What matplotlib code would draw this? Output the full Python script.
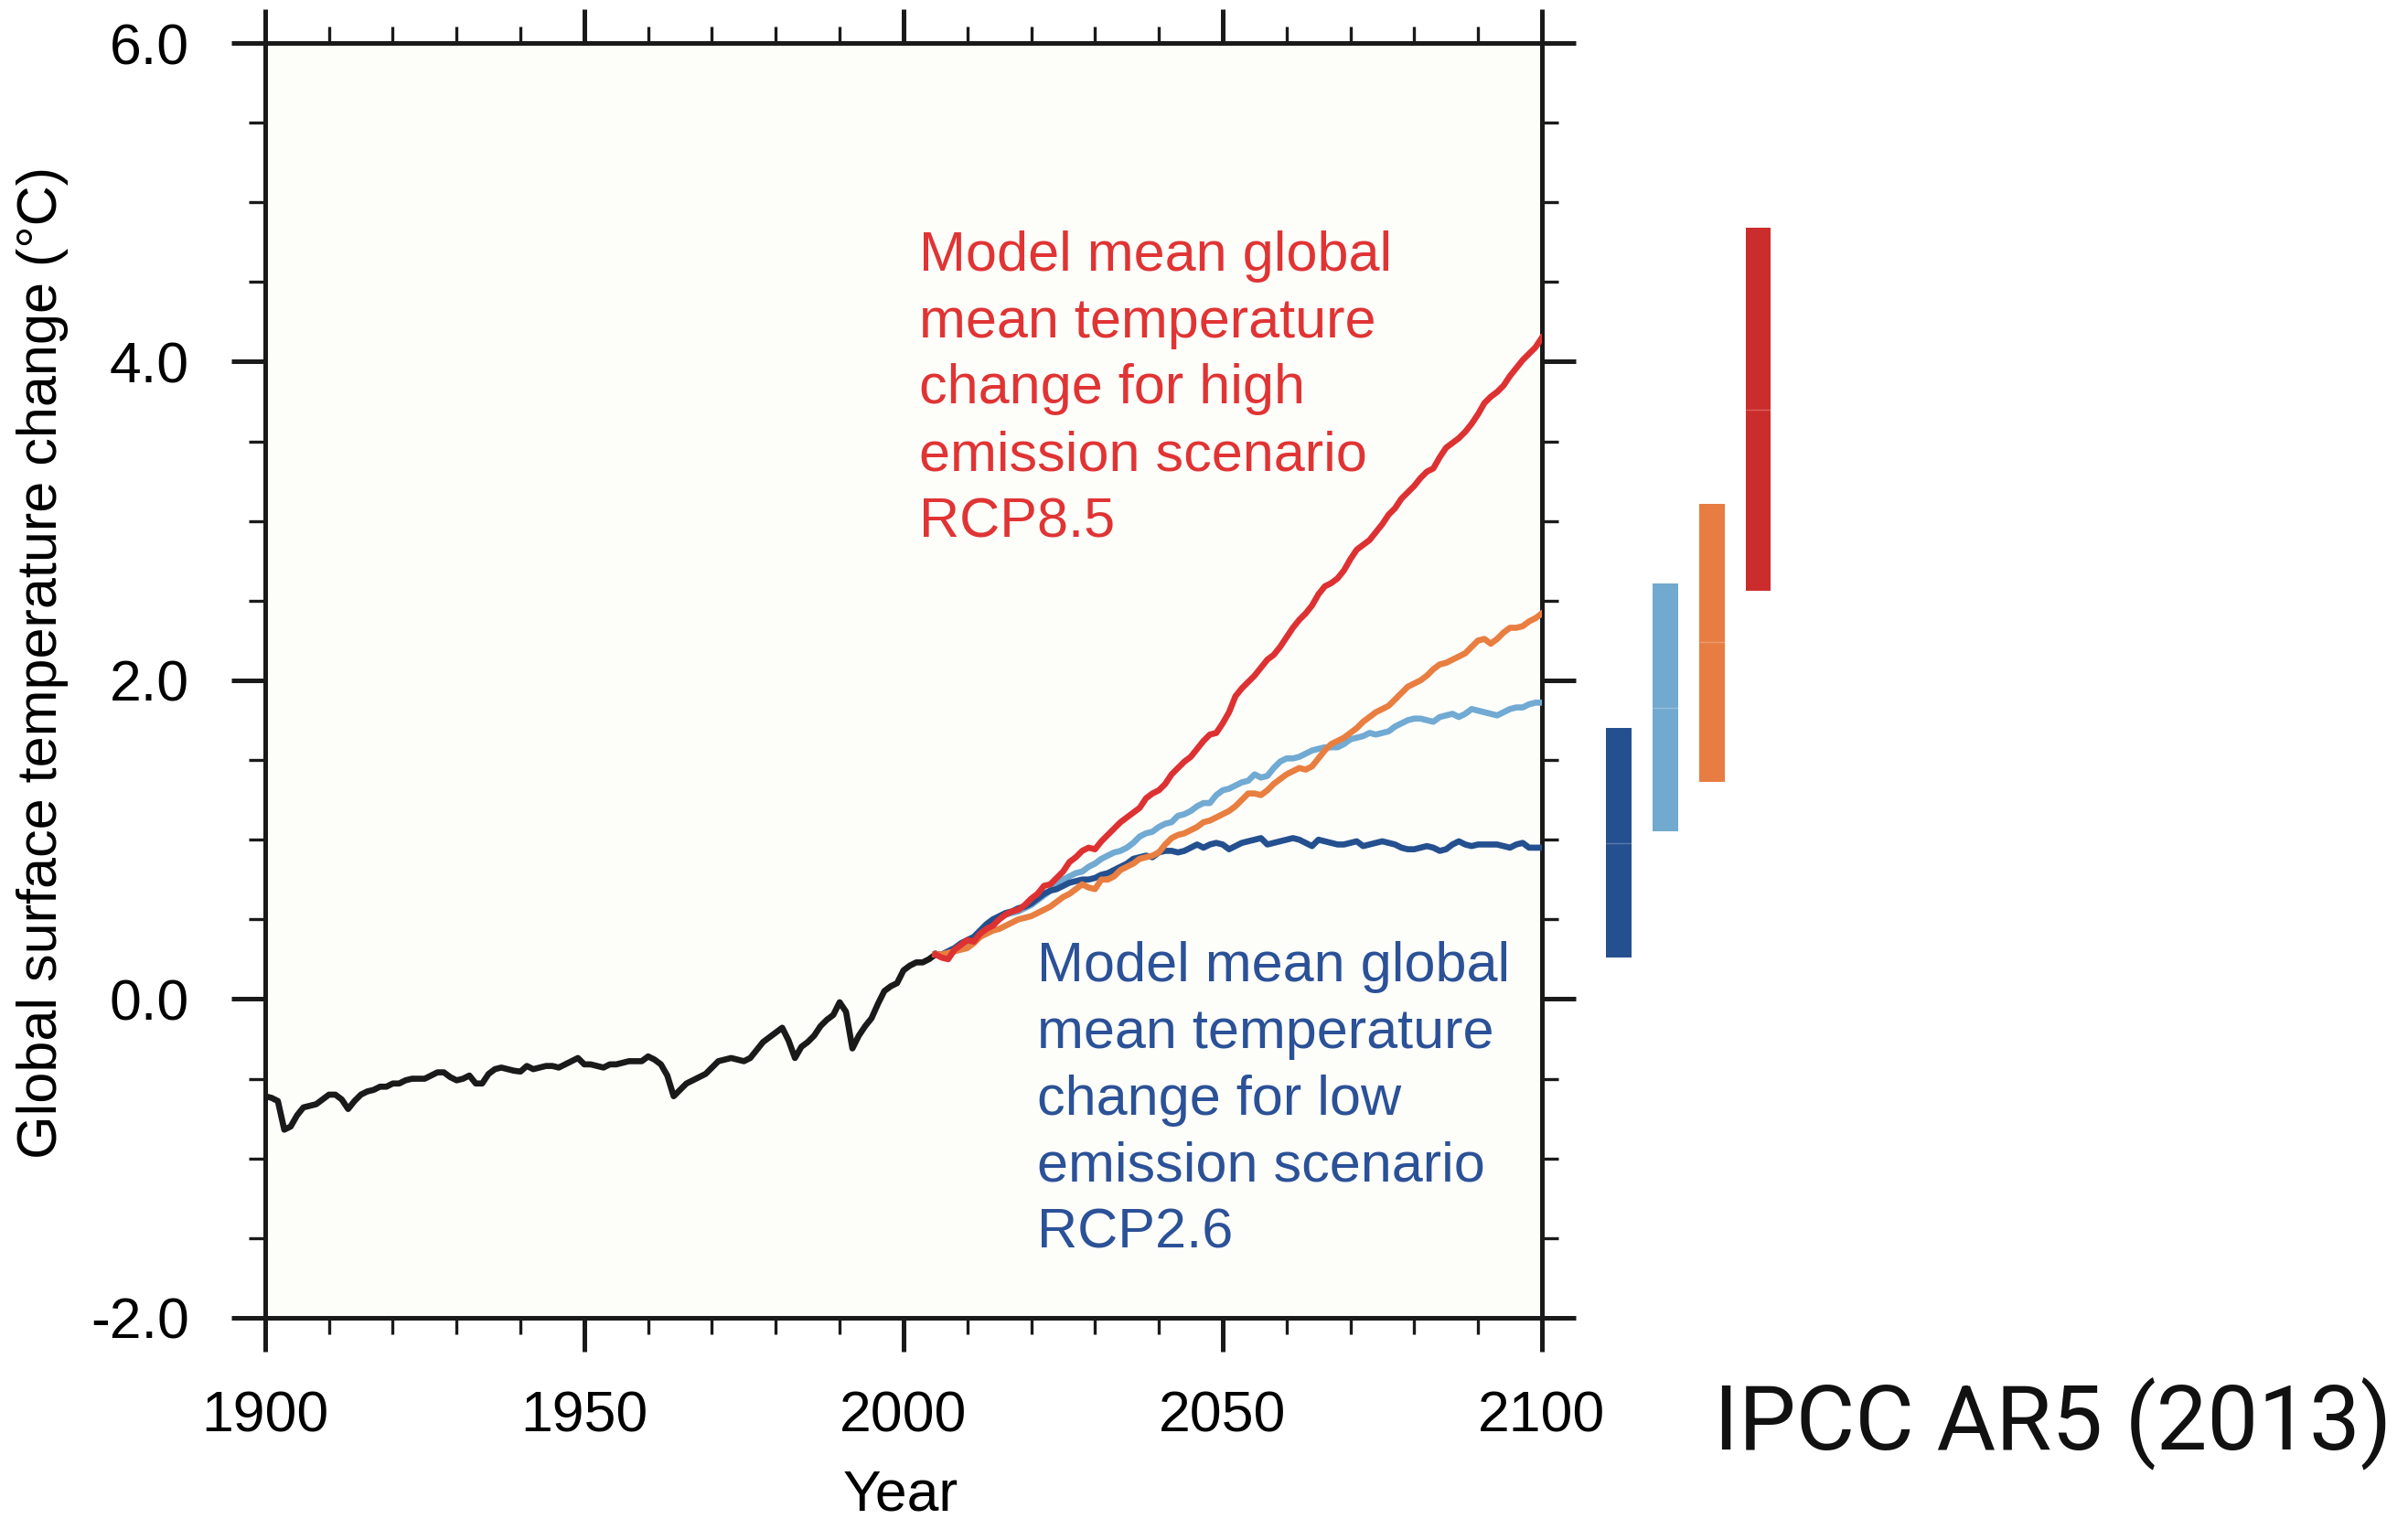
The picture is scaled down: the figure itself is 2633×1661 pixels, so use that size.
import matplotlib
matplotlib.use('Agg')  # no display
import matplotlib.pyplot as plt
from matplotlib.ticker import MultipleLocator

plt.rcParams['font.family'] = ['Liberation Sans', 'DejaVu Sans']

# Observed/historical model mean, 1900-2005
hist_years = list(range(1900, 2006))
hist_temp = [
    -0.61, -0.62, -0.64, -0.82, -0.80, -0.73, -0.68, -0.67, -0.66, -0.63,
    -0.60, -0.60, -0.63, -0.69, -0.64, -0.60, -0.58, -0.57, -0.55, -0.55,
    -0.53, -0.53, -0.51, -0.50, -0.50, -0.50, -0.48, -0.46, -0.46, -0.49,
    -0.51, -0.50, -0.48, -0.53, -0.53, -0.47, -0.44, -0.43, -0.44, -0.45,
    -0.455, -0.42, -0.44, -0.43, -0.42, -0.42, -0.43, -0.41, -0.39, -0.37,
    -0.41, -0.41, -0.42, -0.43, -0.41, -0.41, -0.40, -0.39, -0.39, -0.39,
    -0.36, -0.38, -0.41, -0.48, -0.61, -0.57, -0.53, -0.51, -0.49, -0.47,
    -0.43, -0.39, -0.38, -0.37, -0.38, -0.39, -0.37, -0.32, -0.27, -0.24,
    -0.21, -0.18, -0.26, -0.37, -0.30, -0.27, -0.23, -0.17, -0.13, -0.10,
    -0.02, -0.08, -0.31, -0.23, -0.17, -0.12, -0.03, 0.05, 0.08, 0.10,
    0.18, 0.21, 0.23, 0.23, 0.25, 0.28,
]

# Scenario projections, 2005-2100
proj_years = list(range(2005, 2101))
rcp26 = [
    0.28, 0.28, 0.30, 0.32, 0.35, 0.37, 0.39, 0.43, 0.47, 0.50,
    0.52, 0.54, 0.55, 0.57, 0.58, 0.60, 0.63, 0.66, 0.68, 0.69,
    0.71, 0.73, 0.74, 0.75, 0.75, 0.76, 0.78, 0.79, 0.81, 0.83,
    0.85, 0.88, 0.89, 0.90, 0.89, 0.92, 0.93, 0.93, 0.92, 0.93,
    0.95, 0.97, 0.95, 0.97, 0.98, 0.97, 0.94, 0.96, 0.98, 0.99,
    1.00, 1.01, 0.97, 0.98, 0.99, 1.00, 1.01, 1.00, 0.98, 0.96,
    1.00, 0.99, 0.98, 0.97, 0.97, 0.98, 0.99, 0.96, 0.97, 0.98,
    0.99, 0.98, 0.97, 0.95, 0.94, 0.94, 0.95, 0.96, 0.95, 0.93,
    0.94, 0.97, 0.99, 0.97, 0.96, 0.97, 0.97, 0.97, 0.97, 0.96,
    0.95, 0.97, 0.98, 0.95, 0.95, 0.95,
]
rcp45 = [
    0.28, 0.27, 0.28, 0.30, 0.33, 0.35, 0.37, 0.40, 0.44, 0.48,
    0.51, 0.53, 0.54, 0.55, 0.57, 0.59, 0.62, 0.65, 0.68, 0.71,
    0.75, 0.77, 0.79, 0.80, 0.83, 0.85, 0.88, 0.90, 0.92, 0.93,
    0.95, 0.98, 1.02, 1.04, 1.05, 1.08, 1.10, 1.11, 1.15, 1.16,
    1.18, 1.21, 1.23, 1.23, 1.28, 1.31, 1.32, 1.34, 1.36, 1.37,
    1.41, 1.39, 1.40, 1.45, 1.49, 1.51, 1.51, 1.52, 1.54, 1.56,
    1.57, 1.58, 1.58, 1.58, 1.60, 1.63, 1.64, 1.65, 1.67, 1.66,
    1.67, 1.68, 1.71, 1.73, 1.75, 1.76, 1.76, 1.75, 1.74, 1.77,
    1.78, 1.79, 1.77, 1.79, 1.82, 1.81, 1.80, 1.79, 1.78, 1.80,
    1.82, 1.83, 1.83, 1.85, 1.86, 1.86,
]
rcp60 = [
    0.28, 0.28, 0.29, 0.30, 0.31, 0.32, 0.35, 0.39, 0.41, 0.43,
    0.44, 0.46, 0.48, 0.50, 0.51, 0.52, 0.54, 0.56, 0.58, 0.61,
    0.64, 0.66, 0.69, 0.72, 0.70, 0.69, 0.75, 0.75, 0.77, 0.81,
    0.83, 0.85, 0.88, 0.89, 0.90, 0.92, 0.97, 1.01, 1.03, 1.04,
    1.06, 1.08, 1.11, 1.12, 1.14, 1.16, 1.18, 1.21, 1.25, 1.29,
    1.29, 1.28, 1.31, 1.35, 1.38, 1.41, 1.43, 1.45, 1.44, 1.46,
    1.51, 1.56, 1.60, 1.62, 1.64, 1.67, 1.70, 1.74, 1.77, 1.80,
    1.82, 1.84, 1.88, 1.92, 1.96, 1.98, 2.00, 2.03, 2.07, 2.10,
    2.11, 2.13, 2.15, 2.17, 2.21, 2.25, 2.26, 2.23, 2.26, 2.30,
    2.33, 2.33, 2.34, 2.37, 2.39, 2.42,
]
rcp85 = [
    0.28, 0.26, 0.25, 0.31, 0.34, 0.37, 0.36, 0.41, 0.44, 0.46,
    0.50, 0.53, 0.55, 0.56, 0.59, 0.63, 0.66, 0.71, 0.72, 0.76,
    0.80, 0.86, 0.89, 0.93, 0.95, 0.94, 0.99, 1.03, 1.07, 1.11,
    1.14, 1.17, 1.20, 1.26, 1.29, 1.31, 1.35, 1.41, 1.45, 1.49,
    1.52, 1.57, 1.62, 1.66, 1.67, 1.73, 1.80, 1.90, 1.95, 1.99,
    2.03, 2.08, 2.13, 2.16, 2.21, 2.27, 2.33, 2.38, 2.42, 2.47,
    2.54, 2.59, 2.61, 2.64, 2.69, 2.76, 2.82, 2.85, 2.88, 2.93,
    2.98, 3.04, 3.08, 3.14, 3.18, 3.22, 3.27, 3.31, 3.33, 3.40,
    3.46, 3.49, 3.52, 3.56, 3.61, 3.67, 3.74, 3.78, 3.81, 3.85,
    3.91, 3.96, 4.01, 4.05, 4.09, 4.15,
]

# 2081-2100 likely ranges (bars to the right of the plot)
bar_low = [0.26, 1.05, 1.36, 2.56]
bar_high = [1.70, 2.61, 3.11, 4.84]
bar_mean = [0.98, 1.83, 2.24, 3.70]

c_rcp26 = '#24508f'
c_rcp45 = '#71aad2'
c_rcp60 = '#e97e41'
c_rcp85 = '#de3132'
bar_colors = ['#24508f', '#72a9cf', '#e77d42', '#cb2c2c']

fig = plt.figure(figsize=(26.33, 16.61), dpi=100)
ax = fig.add_axes([0.1101, 0.1325, 0.5302, 0.8392])
ax.set_facecolor('#fdfdfa')

lw = 4.8
ax.plot(hist_years, hist_temp, color='#1a1a1a', linewidth=lw, zorder=3)
ax.plot(proj_years, rcp45, color=c_rcp45, linewidth=lw, zorder=4)
ax.plot(proj_years, rcp26, color=c_rcp26, linewidth=lw, zorder=5)
ax.plot(proj_years, rcp60, color=c_rcp60, linewidth=lw, zorder=6)
ax.plot(proj_years, rcp85, color=c_rcp85, linewidth=lw, zorder=7)

# range bars outside the axes
bar_pos = [2112 + 7.3 * i for i in range(len(bar_low))]
heights = [h - l for h, l in zip(bar_high, bar_low)]
ax.bar(bar_pos, heights, bottom=bar_low, width=4.0, color=bar_colors,
       edgecolor='none', clip_on=False, zorder=2)
for xp, m in zip(bar_pos, bar_mean):
    ax.hlines(m, xp - 2.0, xp + 2.0, color='white', alpha=0.25, linewidth=1.0,
              clip_on=False, zorder=3)

ax.set_xlim(1900, 2100)
ax.set_ylim(-2, 6)
ax.xaxis.set_major_locator(MultipleLocator(50))
ax.xaxis.set_minor_locator(MultipleLocator(10))
ax.yaxis.set_major_locator(MultipleLocator(2))
ax.yaxis.set_minor_locator(MultipleLocator(0.5))
ax.yaxis.set_major_formatter(lambda v, pos: '%.1f' % v)

ax.tick_params(which='both', direction='out', top=True, right=True,
               color='#1a1a1a')
ax.tick_params(which='major', length=26.6, width=3.6, labelsize=45)
ax.tick_params(which='minor', length=13, width=2.4)
ax.tick_params(axis='x', which='major', pad=30)
ax.tick_params(axis='y', which='major', pad=33)
for side in ax.spines.values():
    side.set_linewidth(3.6)
    side.set_color('#1a1a1a')
    side.set_capstyle('round')

ax.set_xlabel('Year', fontsize=45, va='center')
ax.xaxis.set_label_coords(0.4975, -0.139)
ax.set_ylabel('Global surface temperature change (°C)', fontsize=44, va='center')
ax.yaxis.set_label_coords(-0.174, 0.514)

# multi-line text: anchor is the baseline of the last line
ax.text(2002.5, 2.90,
        'Model mean global\nmean temperature\nchange for high\nemission scenario\nRCP8.5',
        color='#e03434', fontsize=44, ha='left', va='baseline', linespacing=1.36)
ax.text(2021.0, -1.56,
        'Model mean global\nmean temperature\nchange for low\nemission scenario\nRCP2.6',
        color='#2b5197', fontsize=44, ha='left', va='baseline', linespacing=1.36)

fig.text(1874 / 2633, 1 - 1556 / 1661, 'IPCC AR5 (2013)', fontsize=71.5,
         family=['Roboto', 'Liberation Sans'], fontweight='normal',
         ha='left', va='center', color='#111111')

fig.savefig('out.png', dpi=100, facecolor='white')
